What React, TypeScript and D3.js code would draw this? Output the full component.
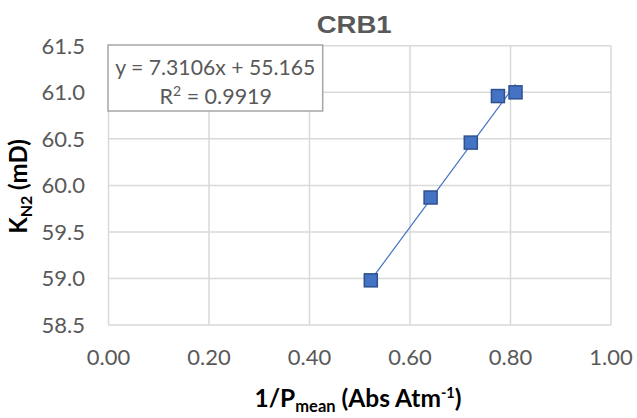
import React from 'react';
import * as d3 from 'd3';

const xValues = [0.522, 0.641, 0.721, 0.775, 0.81];
const yValues = [58.98, 59.87, 60.46, 60.96, 61.0];
const xTicks = [0, 0.2, 0.4, 0.6, 0.8, 1.0];
const yTicks = [58.5, 59.0, 59.5, 60.0, 60.5, 61.0, 61.5];
const fitSlope = 7.3106;
const fitIntercept = 55.165;
const fitR2 = 0.9919;

const App: React.FC = () => {
  const width = 637;
  const height = 418;

  const x = d3.scaleLinear().domain([0, 1]).range([108.5, 611]);
  const y = d3.scaleLinear().domain([58.5, 61.5]).range([325, 45.8]);

  const xMin = d3.min(xValues) as number;
  const xMax = d3.max(xValues) as number;
  const fitLine = d3.line<number>()
    .x(d => x(d))
    .y(d => y(fitSlope * d + fitIntercept));

  const font = 'Lato, "Open Sans", sans-serif';
  const grid = '#d9d9d9';
  const tickColor = '#595959';
  const size = 13;

  return (
    <svg width={width} height={height} style={{ position: 'absolute', left: 0, top: 0 }}>
      <rect width={width} height={height} fill="#fff" />

      {/* gridlines */}
      {yTicks.map(t => (
        <line key={'gy' + t} x1={x(0)} x2={x(1)} y1={y(t)} y2={y(t)} stroke={grid} strokeWidth={1.5} />
      ))}
      {xTicks.map(t => (
        <line key={'gx' + t} x1={x(t)} x2={x(t)} y1={y(61.5)} y2={y(58.5)} stroke={grid} strokeWidth={1.5} />
      ))}

      {/* tick labels */}
      {yTicks.map(t => (
        <text key={'ty' + t} x={85} y={y(t) + 8} textAnchor="end" fontFamily={font} fontSize={22} fill={tickColor}>
          {d3.format('.1f')(t)}
        </text>
      ))}
      {xTicks.map(t => (
        <text key={'tx' + t} x={x(t)} y={365} textAnchor="middle" fontFamily={font} fontSize={22} fill={tickColor}>
          {d3.format('.2f')(t)}
        </text>
      ))}

      {/* trendline */}
      <path d={fitLine([xMin, xMax]) || ''} fill="none" stroke="#4472c4" strokeWidth={1.2} />

      {/* markers */}
      {xValues.map((v, i) => (
        <rect key={'p' + i} x={x(v) - size / 2} y={y(yValues[i]) - size / 2} width={size} height={size}
          fill="#4472c4" stroke="#2f528f" strokeWidth={1.5} />
      ))}

      {/* equation box */}
      <rect x={108} y={45} width={214.7} height={66} fill="#fff" stroke="#a6a6a6" strokeWidth={1.5} />
      <text x={215.3} y={75} textAnchor="middle" fontFamily={font} fontSize={21.5} fill={tickColor}
        textLength={200} lengthAdjust="spacingAndGlyphs">
        {`y = ${fitSlope}x + ${fitIntercept}`}
      </text>
      <text x={215.8} y={104} textAnchor="middle" fontFamily={font} fontSize={21.5} fill={tickColor}>
        R<tspan fontSize={14} dy={-8}>2</tspan><tspan dy={8}>{` = ${fitR2}`}</tspan>
      </text>

      {/* title */}
      <text x={354.2} y={33.3} textAnchor="middle" fontFamily='"Liberation Sans", Arial, sans-serif'
        fontWeight="bold" fontSize={23.3} fill={tickColor} textLength={75} lengthAdjust="spacingAndGlyphs">
        CRB1
      </text>

      {/* x axis title */}
      <text x={358} y={406.5} textAnchor="middle" fontFamily={font} fontWeight="bold" fontSize={24.5} fill="#000">
        1/P<tspan fontSize={16.5} dy={5}>mean</tspan>
        <tspan dy={-5}> (Abs Atm</tspan>
        <tspan fontSize={14.5} dy={-9}>-1</tspan>
        <tspan dy={9}>)</tspan>
      </text>

      {/* y axis title */}
      <text transform="translate(27,186.5) rotate(-90)" textAnchor="middle" fontFamily={font} fontWeight="bold"
        fontSize={24} fill="#000">
        K<tspan fontSize={16} dy={5}>N2</tspan>
        <tspan dy={-5}> (mD)</tspan>
      </text>
    </svg>
  );
};

export default App;
